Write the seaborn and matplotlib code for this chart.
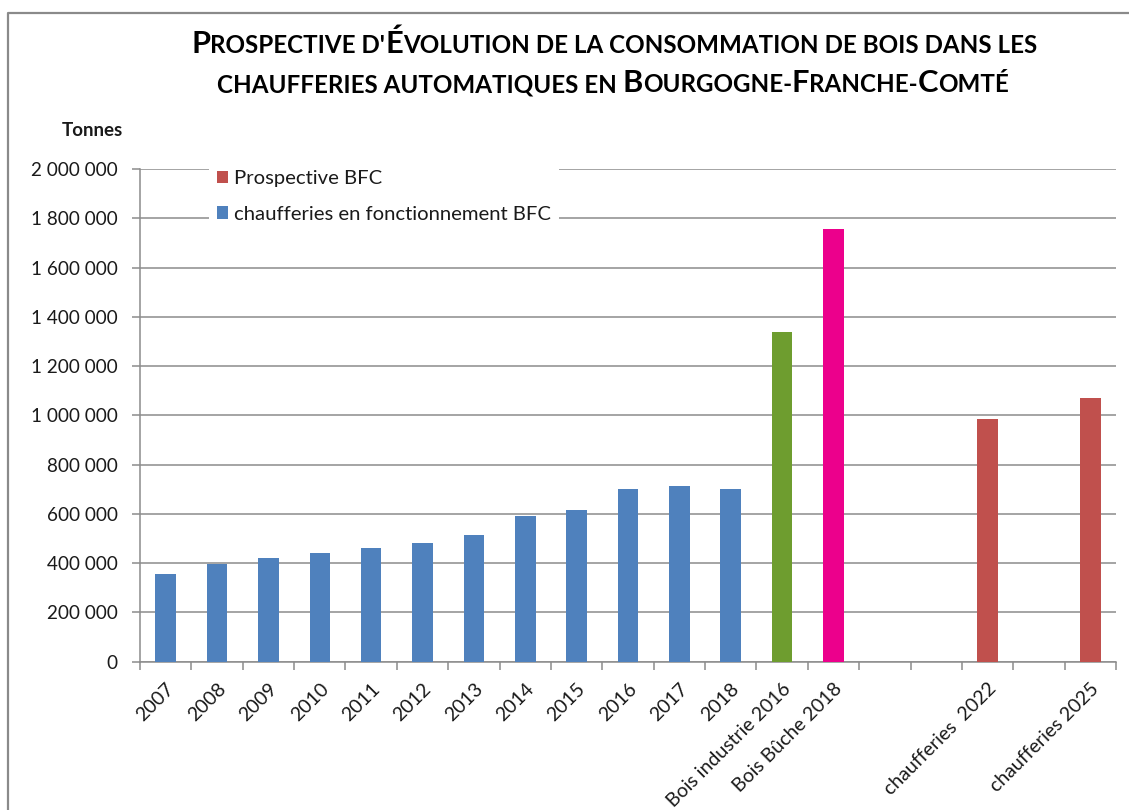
import numpy as np
import pandas as pd
import matplotlib
matplotlib.use("Agg")
import matplotlib.pyplot as plt
import seaborn as sns
from matplotlib.patches import Patch
from matplotlib.lines import Line2D
from matplotlib.ticker import FuncFormatter, MultipleLocator
from matplotlib.transforms import IdentityTransform

# ---- data -------------------------------------------------------------
categories = ["2007", "2008", "2009", "2010", "2011", "2012", "2013", "2014",
              "2015", "2016", "2017", "2018", "Bois industrie 2016",
              "Bois Bûche 2018", "", "", "chaufferies  2022", "",
              "chaufferies 2025"]
values = [355000, 398000, 421000, 442000, 460000, 481000, 514000, 591000,
          617000, 702000, 712000, 702000, 1338000, 1757000, np.nan, np.nan,
          987000, np.nan, 1070000]
groups = (["chaufferies en fonctionnement BFC"] * 12
          + ["Bois industrie", "Bois bûche", None, None,
             "Prospective BFC", None, "Prospective BFC"])

group_colors = {
    "chaufferies en fonctionnement BFC": "#4F81BD",
    "Bois industrie": "#6E9D2F",
    "Bois bûche": "#EC008C",
    "Prospective BFC": "#C0504D",
}
legend_entries = ["Prospective BFC", "chaufferies en fonctionnement BFC"]

title_lines = ["Prospective d'Évolution de la consommation de bois dans les",
               "chaufferies automatiques en Bourgogne-Franche-Comté"]
y_label = "Tonnes"

# ---- figure -----------------------------------------------------------
FONT = ["Lato", "DejaVu Sans"]
sns.set_theme(style="white")
plt.rcParams["font.family"] = FONT

W, H = 1129, 810
fig = plt.figure(figsize=(W / 100, H / 100), dpi=100)
fig.patch.set_facecolor("white")

ax_left, ax_right, ax_top, ax_bottom = 140, 1116, 169, 661.7
ax = fig.add_axes([ax_left / W, (H - ax_bottom) / H,
                   (ax_right - ax_left) / W, (ax_bottom - ax_top) / H])

slots = [f"slot{i}" for i in range(len(categories))]
df = pd.DataFrame({"slot": slots, "value": values, "group": groups})
df = df.dropna(subset=["value"])

sns.barplot(data=df, x="slot", y="value", hue="group", order=slots,
            hue_order=list(group_colors), palette=group_colors,
            dodge=False, width=0.4, saturation=1, linewidth=0,
            legend=False, ax=ax, zorder=3)

grid_col = "#8C8C8C"
text_col = "#1a1a1a"
ax.set_ylim(0, 2_000_000)
ax.set_xlim(-0.5, len(categories) - 0.5)
ax.yaxis.set_major_locator(MultipleLocator(200_000))
ax.yaxis.set_major_formatter(
    FuncFormatter(lambda v, p: f"{int(round(v)):,}".replace(",", " ")))
ax.grid(axis="y", color=grid_col, linewidth=1.1, zorder=0)
ax.set_axisbelow(True)

for side in ["top", "right"]:
    ax.spines[side].set_visible(False)
for side in ["left", "bottom"]:
    ax.spines[side].set_color(grid_col)
    ax.spines[side].set_linewidth(1.1)

# category labels at bar centres, tick marks on category boundaries
ax.set_xticks(range(len(categories)))
ax.set_xticklabels(categories, rotation=45, ha="right", va="top",
                   rotation_mode="anchor", fontsize=14, color=text_col)
ax.set_xticks(np.arange(-0.5, len(categories)), minor=True)
ax.tick_params(axis="x", which="major", length=0, pad=13)
ax.tick_params(axis="x", which="minor", length=6, width=1.1, color=grid_col,
               direction="out", bottom=True)
ax.tick_params(axis="y", which="major", length=6, width=1.1, color=grid_col,
               direction="out", left=True, labelsize=13.6, labelcolor=text_col,
               pad=10)
ax.set_xlabel("")
ax.set_ylabel("")

# legend
handles = [Patch(facecolor=group_colors[k], edgecolor="none") for k in legend_entries]
leg = ax.legend(handles, legend_entries, loc="upper left",
                bbox_to_anchor=(209 / W, 1 - 162 / H),
                bbox_transform=fig.transFigure, frameon=True,
                facecolor="white", edgecolor="none", framealpha=1,
                fontsize=14.6, handlelength=0.55, handleheight=0.55,
                handletextpad=0.3, labelspacing=0.92, borderpad=0.4,
                borderaxespad=0)
leg.set_zorder(10)
for t in leg.get_texts():
    t.set_color(text_col)

# y-axis unit
fig.text(92 / W, 1 - 130 / H, y_label, ha="center", va="center",
         fontsize=13.5, fontweight="bold", color=text_col)

# ---- small-caps title ---------------------------------------------------
renderer = fig.canvas.get_renderer()


def advance(s, size):
    t = fig.text(0, 0, "|" + s + "|", fontsize=size, fontweight="bold",
                 transform=IdentityTransform())
    w1 = t.get_window_extent(renderer).width
    t.set_text("||")
    w0 = t.get_window_extent(renderer).width
    t.remove()
    return w1 - w0


def split_runs(text):
    runs = []
    for ch in text:
        big = ch.isupper()
        if runs and runs[-1][1] == big:
            runs[-1][0] += ch
        else:
            runs.append([ch, big])
    return runs


def small_caps(text, cx, baseline, big, small):
    runs = split_runs(text)
    widths = [advance(s.upper(), big if b else small) for s, b in runs]
    x = cx - sum(widths) / 2
    for (s, b), w in zip(runs, widths):
        fig.text(x, H - baseline, s.upper(), fontsize=big if b else small,
                 fontweight="bold", ha="left", va="baseline", color="black",
                 transform=IdentityTransform())
        x += w


# size chosen so the first line spans the header width
base_big, ratio = 20.0, 0.78
probe = sum(advance(s.upper(), base_big if b else base_big * ratio)
            for s, b in split_runs(title_lines[0]))
big_size = base_big * 844 / probe
small_size = big_size * ratio
small_caps(title_lines[0], 614, 53, big_size, small_size)
small_caps(title_lines[1], 613, 92, big_size, small_size)

# outer chart frame
frame_col = "#8A8A8A"
fig.add_artist(Line2D([8 / W, 8 / W, 1.0], [0.0, 1 - 13 / H, 1 - 13 / H],
                      transform=fig.transFigure, color=frame_col, linewidth=1.6))

fig.savefig("out.png", dpi=100, facecolor="white")
